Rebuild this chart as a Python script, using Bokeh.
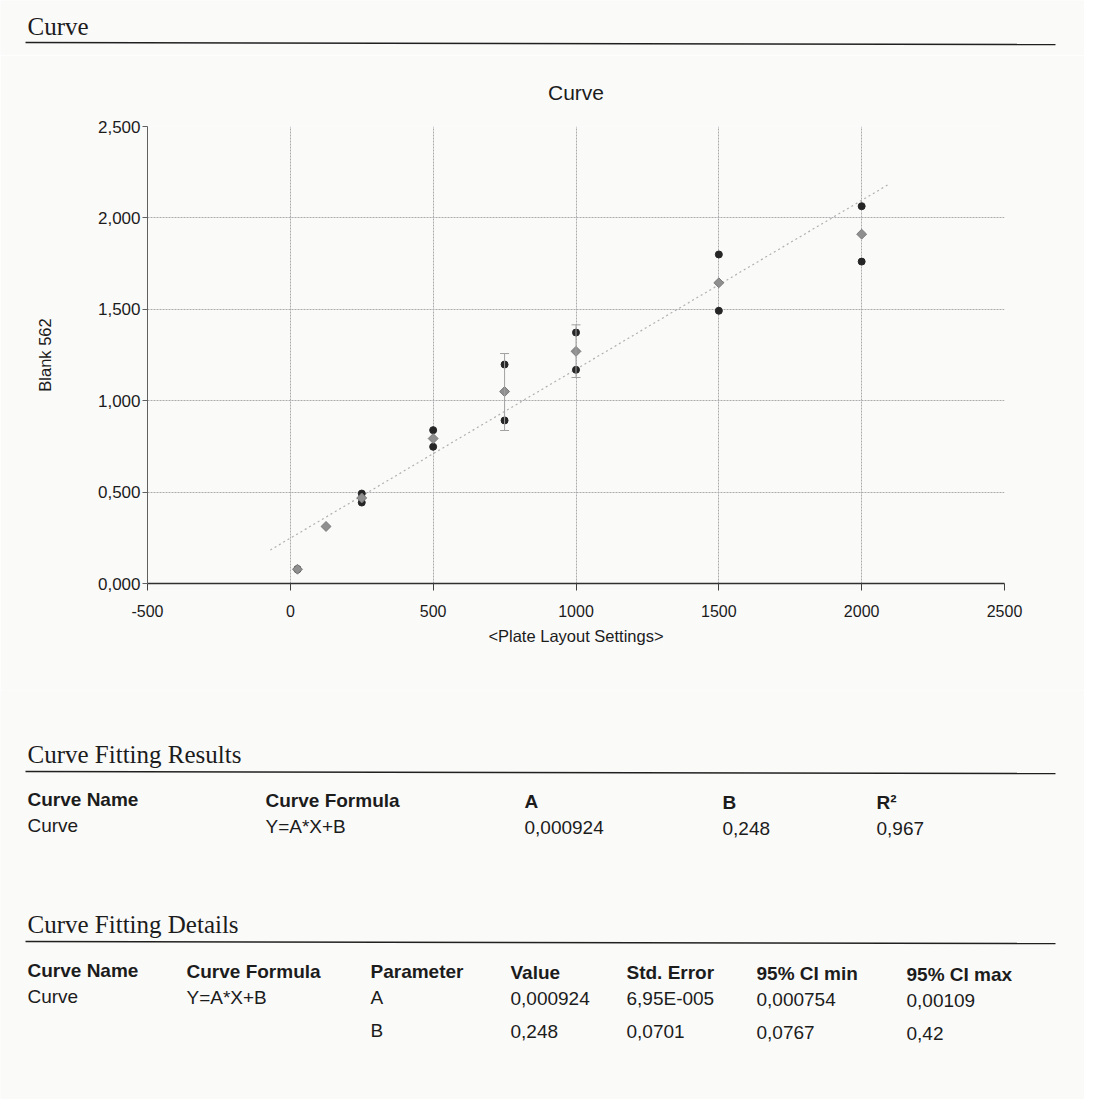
from bokeh.plotting import figure
from bokeh.layouts import column
from bokeh.models import Range1d, FixedTicker, Whisker, ColumnDataSource, TeeHead
from bokeh.core.properties import value
from bokeh.embed import file_html
from bokeh.resources import INLINE

# ---------------- data ----------------
rep_x = [25, 25, 250, 250, 500, 500, 750, 750, 1000, 1000, 1500, 1500, 2000, 2000]
rep_y = [0.077, 0.079, 0.492, 0.443, 0.839, 0.748, 1.198, 0.892, 1.373, 1.169, 1.800, 1.492, 2.064, 1.761]
mean_x = [25, 125, 250, 500, 750, 1000, 1500, 2000]
mean_y = [0.078, 0.312, 0.468, 0.793, 1.050, 1.270, 1.645, 1.911]
err_x = [750, 1000]
err_lo = [0.837, 1.127]
err_hi = [1.258, 1.415]
fit_A = 0.000924
fit_B = 0.248
fit_x_range = [-70, 2095]

x_ticks = [-500, 0, 500, 1000, 1500, 2000, 2500]
x_tick_labels = ["-500", "0", "500", "1000", "1500", "2000", "2500"]
y_ticks = [0.0, 0.5, 1.0, 1.5, 2.0, 2.5]
y_tick_labels = ["0,000", "0,500", "1,000", "1,500", "2,000", "2,500"]

chart_title = "Curve"
x_label = "<Plate Layout Settings>"
y_label = "Blank 562"

section_titles = ["Curve", "Curve Fitting Results", "Curve Fitting Details"]
results_headers = ["Curve Name", "Curve Formula", "A", "B", "R\u00b2"]
results_values = ["Curve", "Y=A*X+B", "0,000924", "0,248", "0,967"]
details_headers = ["Curve Name", "Curve Formula", "Parameter", "Value", "Std. Error", "95% CI min", "95% CI max"]
details_row_A = ["Curve", "Y=A*X+B", "A", "0,000924", "6,95E-005", "0,000754", "0,00109"]
details_row_B = ["", "", "B", "0,248", "0,0701", "0,0767", "0,42"]

# ---------------- layout / style ----------------
BG = "#fafaf9"
SANS = "Liberation Sans"
SERIF = "Liberation Serif"
TXT = "#1c1c1c"
W = 1084
FRAME_L = 147
FRAME_R = 1004
SKEW = 0.004
TOP_H = 55
CHART_BOTTOM = 690


def no_align(f):
    if "frame_align" in f.properties():
        f.frame_align = False


def page_fig(y_top, y_bot):
    f = figure(width=W, height=y_bot - y_top, x_range=Range1d(0, W),
               y_range=Range1d(y_bot, y_top), output_backend="svg",
               toolbar_location=None, tools="", min_border=0,
               x_axis_location=None, y_axis_location=None)
    f.grid.visible = False
    f.outline_line_color = None
    f.background_fill_color = BG
    f.border_fill_color = BG
    no_align(f)
    return f


def heading(f, txt, base_y, rule_y):
    f.text(x=[27], y=[base_y], text=[txt], text_font=value(SERIF),
           text_font_size="25px", text_baseline="alphabetic", text_color=TXT)
    f.segment(x0=[25], y0=[rule_y], x1=[1055], y1=[rule_y + 1030 * 0.002],
              line_color="#202020", line_width=1.6)


def row(f, xs, base_y, texts, bold=False):
    ys = [base_y + (x - 27) * SKEW for x in xs]
    f.text(x=xs, y=ys, text=texts, text_font=value(SANS), text_font_size="19px",
           text_font_style="bold" if bold else "normal",
           text_baseline="alphabetic", text_color=TXT)


# top strip
top = page_fig(0, TOP_H)
heading(top, section_titles[0], 26, 42)

# chart
p = figure(width=W, height=CHART_BOTTOM - TOP_H, x_range=Range1d(-500, 2500),
           y_range=Range1d(0, 2.5), output_backend="svg", toolbar_location=None, tools="",
           min_border_left=FRAME_L, min_border_right=W - FRAME_R,
           min_border_top=126 - TOP_H, min_border_bottom=CHART_BOTTOM - 583,
           title=chart_title)
no_align(p)
p.background_fill_color = BG
p.border_fill_color = BG
p.outline_line_color = None
p.title.align = "center"
p.title.text_font = SANS
p.title.text_font_size = "21px"
p.title.text_font_style = "normal"
p.title.text_color = TXT
p.title.standoff = 45

p.xaxis.ticker = FixedTicker(ticks=x_ticks)
p.xaxis.major_label_overrides = dict(zip(x_ticks, x_tick_labels))
p.yaxis.ticker = FixedTicker(ticks=y_ticks)
p.yaxis.major_label_overrides = dict(zip(y_ticks, y_tick_labels))
p.xaxis.axis_label = x_label
p.yaxis.axis_label = y_label
for ax in (p.xaxis[0], p.yaxis[0]):
    ax.minor_tick_line_color = None
    ax.major_tick_in = 0
    ax.major_label_text_font = SANS
    ax.major_label_text_color = TXT
    ax.axis_label_text_font = SANS
    ax.axis_label_text_font_size = "16.5px"
    ax.axis_label_text_font_style = "normal"
    ax.axis_label_text_color = TXT
p.xaxis.major_label_text_font_size = "16px"
p.yaxis.major_label_text_font_size = "17px"
p.xaxis.axis_line_color = "#303030"
p.xaxis.axis_line_width = 1.5
p.xaxis.major_tick_line_color = "#404040"
p.xaxis.major_tick_out = 7
p.xaxis.major_label_standoff = 14
p.xaxis.axis_label_standoff = 7
p.yaxis.axis_line_color = "#606060"
p.yaxis.major_tick_line_color = "#606060"
p.yaxis.major_tick_out = 5
p.yaxis.major_label_standoff = 2
p.yaxis.axis_label_standoff = 41

p.grid.grid_line_color = "#ababab"
p.grid.grid_line_dash = "2 1"
p.grid.grid_line_width = 1

fx = fit_x_range
fy = [fit_A * v + fit_B for v in fx]
p.line(fx, fy, line_color="#b0b0b0", line_dash="2 3", line_width=1.2)

err_src = ColumnDataSource(dict(x=err_x, lower=err_lo, upper=err_hi))
p.add_layout(Whisker(source=err_src, base="x", lower="lower", upper="upper",
                     line_color="#a0a0a0", line_width=1, level="glyph",
                     upper_head=TeeHead(size=9, line_color="#a0a0a0"),
                     lower_head=TeeHead(size=9, line_color="#a0a0a0")))

p.scatter(rep_x, rep_y, marker="circle", size=7, fill_color="#262626", line_color="#262626")
p.scatter(mean_x, mean_y, marker="square", angle=0.785398, size=7,
          fill_color="#8f8f8f", line_color="#7a7a7a")

# bottom part
bot = page_fig(CHART_BOTTOM, 1099)
heading(bot, section_titles[1], 754, 771)
res_cols = [27, 265, 524, 722, 876]
row(bot, res_cols, 799, results_headers, bold=True)
row(bot, res_cols, 825, results_values)

heading(bot, section_titles[2], 924, 941)
det_cols = [27, 186, 370, 510, 626, 756, 906]
row(bot, det_cols, 970, details_headers, bold=True)
row(bot, det_cols, 996, details_row_A)
row(bot, det_cols, 1029, details_row_B)

layout = column(top, p, bot)
open("out.html", "w").write(file_html(layout, INLINE))
